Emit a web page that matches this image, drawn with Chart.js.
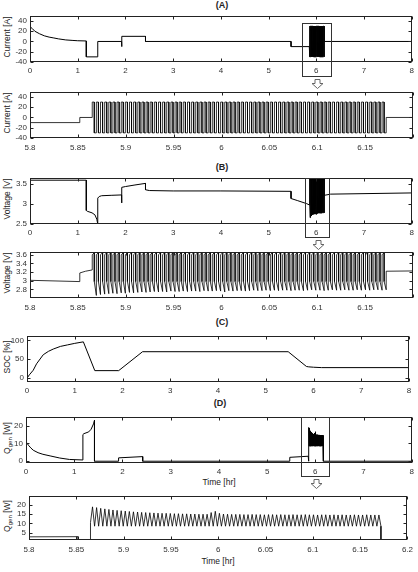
<!DOCTYPE html>
<html>
<head>
<meta charset="utf-8">
<script src="https://cdn.jsdelivr.net/npm/chart.js@4.4.0/dist/chart.umd.min.js"></script>
<style>
  body { margin: 0; background: #fff; width: 418px; height: 572px; position: relative; overflow: hidden;
         font-family: "Liberation Sans", Arial, sans-serif; color: #222; }
  canvas { position: absolute; left: 0; }
  .ttl { position: absolute; font-size: 9px; font-weight: bold; line-height: 10px; transform: translateX(-50%); }
  .ylab { position: absolute; font-size: 8.5px; line-height: 9px; white-space: nowrap; transform: translate(-50%, -50%) rotate(-90deg); }
  .ylab sub { font-size: 6px; line-height: 0; }
  .xlab { position: absolute; font-size: 8.5px; line-height: 9px; transform: translateX(-50%); }
</style>
</head>
<body>
<div class="ttl" style="left:222px;top:0px">(A)</div>
<div class="ttl" style="left:222px;top:162px">(B)</div>
<div class="ttl" style="left:222px;top:317px">(C)</div>
<div class="ttl" style="left:220px;top:398px">(D)</div>

<div class="ylab" style="left:7px;top:37px">Current [A]</div>
<div class="ylab" style="left:7px;top:113px">Current [A]</div>
<div class="ylab" style="left:7px;top:199px">Voltage [V]</div>
<div class="ylab" style="left:7px;top:273px">Voltage [V]</div>
<div class="ylab" style="left:7px;top:357px">SOC [%]</div>
<div class="ylab" style="left:7px;top:438px">Q<sub>gen</sub> [W]</div>
<div class="ylab" style="left:7px;top:516px">Q<sub>gen</sub> [W]</div>

<div class="xlab" style="left:219px;top:478px">Time [hr]</div>
<div class="xlab" style="left:218px;top:557px">Time [hr]</div>

<canvas id="chartA1" width="418" height="82" style="top:8px"></canvas>
<canvas id="chartA2" width="418" height="70" style="top:84px"></canvas>
<canvas id="chartB1" width="418" height="80" style="top:170px"></canvas>
<canvas id="chartB2" width="418" height="70" style="top:244px"></canvas>
<canvas id="chartC" width="418" height="70" style="top:328px"></canvas>
<canvas id="chartD1" width="418" height="82" style="top:409px"></canvas>
<canvas id="chartD2" width="418" height="68" style="top:488px"></canvas>

<script>
// Whole 8 hour run. The pulse block (5.865 - 6.172 hr) is spliced in from the pulse arrays below.
const curTime = [0, 0.01, 0.05, 0.1, 0.2, 0.3, 0.4, 0.5, 0.6, 0.75, 0.9, 1.0, 1.18, 1.18, 1.42, 1.42, 1.92, 1.92, 1.925, 1.925, 2.42, 2.42, 5.47, 5.47, 5.852, 5.852, 5.865, 6.172, 8];
const curVal = [37, 28, 25, 20, 15, 11, 8.5, 6.8, 5, 3, 2, 1.4, 1.0, -30, -30, 0, 0, -10, -10, 10, 10, 0, 0, -10, -10, 0, 0, 0, 0];

const voltTime = [0, 1.18, 1.18, 1.2, 1.3, 1.36, 1.4, 1.42, 1.42, 1.45, 1.5, 1.7, 1.92, 1.92, 1.925, 2.0, 2.2, 2.42, 2.42, 2.5, 3, 4, 5.47, 5.47, 5.6, 5.8, 5.852, 5.852, 5.858, 5.865, 6.172, 6.3, 8];
const voltVal = [3.6, 3.6, 2.84, 2.82, 2.78, 2.73, 2.62, 2.5, 3.15, 3.19, 3.21, 3.22, 3.23, 3.03, 3.42, 3.44, 3.48, 3.52, 3.36, 3.34, 3.33, 3.33, 3.32, 3.14, 3.09, 3.01, 2.98, 3.18, 3.22, 3.25, 3.22, 3.25, 3.28];

const socTime = [0, 0.05, 0.13, 0.2, 0.34, 0.45, 0.55, 0.7, 0.85, 1.0, 1.18, 1.42, 1.92, 2.42, 5.47, 5.852, 5.9, 6.0, 6.17, 8];
const socVal = [0, 9, 21, 38, 62, 71, 77, 84, 88, 92, 96, 20, 20, 70, 70, 31, 30, 29, 28, 28];

const qTime = [0, 0.05, 0.1, 0.15, 0.25, 0.35, 0.5, 0.7, 0.9, 1.18, 1.18, 1.2, 1.3, 1.35, 1.4, 1.42, 1.42, 1.92, 1.92, 2.42, 2.42, 5.47, 5.47, 5.852, 5.852, 5.865, 6.172, 8];
const qVal = [11, 9, 7.5, 6.2, 4.8, 3.9, 3.0, 1.8, 1.0, 0.7, 15, 15.5, 16.5, 18, 21, 23, 0, 0, 1.9, 2.6, 0, 0, 2.2, 2.8, 0, 0, 0, 0];

// pulse train: start of each charge half, +30 A then -30 A
const pulseStart = [
  5.8650, 5.8693, 5.8736, 5.8780, 5.8823, 5.8866, 5.8909, 5.8953, 5.8996, 5.9039,
  5.9082, 5.9126, 5.9169, 5.9212, 5.9255, 5.9299, 5.9342, 5.9385, 5.9428, 5.9472,
  5.9515, 5.9558, 5.9601, 5.9645, 5.9688, 5.9731, 5.9774, 5.9818, 5.9861, 5.9904,
  5.9947, 5.9991, 6.0034, 6.0077, 6.0120, 6.0164, 6.0207, 6.0250, 6.0293, 6.0337,
  6.0380, 6.0423, 6.0466, 6.0510, 6.0553, 6.0596, 6.0639, 6.0683, 6.0726, 6.0769,
  6.0812, 6.0856, 6.0899, 6.0942, 6.0985, 6.1029, 6.1072, 6.1115, 6.1158, 6.1202,
  6.1245, 6.1288, 6.1331, 6.1375, 6.1418, 6.1461, 6.1504, 6.1548, 6.1591, 6.1634,
  6.1677
];
const pulseEnd = 6.172;
const pulseHigh = 30;
const pulseLow = -30;

// voltage during pulses: charge half rises 3.6 -> 3.65, discharge half falls to vLow
const vChargeStart = 3.6;
const vChargeEnd = 3.65;
const vDischargeStart = 2.98;
const vLow = [
  2.66, 2.68, 2.69, 2.70, 2.71, 2.70, 2.72, 2.71, 2.73, 2.72,
  2.73, 2.74, 2.73, 2.74, 2.75, 2.74, 2.75, 2.74, 2.76, 2.75,
  2.75, 2.76, 2.75, 2.76, 2.76, 2.75, 2.77, 2.76, 2.76, 2.77,
  2.76, 2.74, 2.77, 2.76, 2.77, 2.77, 2.76, 2.77, 2.78, 2.77,
  2.77, 2.78, 2.77, 2.78, 2.77, 2.78, 2.78, 2.77, 2.78, 2.78,
  2.77, 2.78, 2.79, 2.78, 2.78, 2.77, 2.78, 2.79, 2.78, 2.78,
  2.79, 2.78, 2.78, 2.79, 2.78, 2.79, 2.78, 2.79, 2.79, 2.78,
  2.79
];

// heat generation during pulses
const qFirst = 10.5;
const qTrough = 8.5;
const qPeak = [
  19.0, 18.6, 18.2, 17.9, 17.6, 17.3, 17.1, 16.9, 16.7, 16.5,
  16.3, 16.2, 16.0, 15.9, 15.8, 15.7, 15.6, 15.5, 15.5, 15.4,
  15.3, 15.3, 15.2, 15.2, 15.1, 15.1, 15.0, 15.0, 15.0, 15.9,
  16.6, 15.5, 15.1, 15.0, 14.9, 14.9, 14.9, 14.8, 14.8, 14.9,
  14.8, 14.8, 14.7, 14.8, 14.8, 14.7, 14.8, 14.7, 14.7, 14.8,
  14.7, 14.7, 14.8, 14.7, 14.7, 14.6, 14.7, 14.7, 14.6, 14.7,
  14.6, 14.7, 14.6, 14.6, 14.7, 14.6, 14.6, 14.7, 14.6, 14.6,
  14.6
];

// tick labels
const fullTicks = [0, 1, 2, 3, 4, 5, 6, 7, 8];
const zoomTicks = [5.8, 5.85, 5.9, 5.95, 6, 6.05, 6.1, 6.15, 6.2];
const currentTicks = [-40, -20, 0, 20, 40];
const voltTicks = [2.5, 3, 3.5];
const voltZoomTicks = [2.8, 3, 3.2, 3.4, 3.6];
const socTicks = [0, 50, 100];
const qTicks = [0, 10, 20];
const qZoomTicks = [5, 10, 15, 20];

function edges(i) {
  const t0 = pulseStart[i];
  const t1 = i + 1 < pulseStart.length ? pulseStart[i + 1] : pulseEnd;
  return [t0, (t0 + t1) / 2, t1];
}

// base signal up to the pulse block, the block itself, then the rest
function splice(times, vals, pulsePoints) {
  const pts = [];
  times.forEach((t, k) => { if (t <= pulseStart[0]) pts.push({ x: t, y: vals[k] }); });
  pulseStart.forEach((_, i) => pulsePoints(i, edges(i)).forEach(p => pts.push(p)));
  times.forEach((t, k) => { if (t >= pulseEnd) pts.push({ x: t, y: vals[k] }); });
  return pts;
}

const currentPts = splice(curTime, curVal, (i, [t0, tm, t1]) => [
  { x: t0, y: pulseHigh }, { x: tm, y: pulseHigh }, { x: tm, y: pulseLow }, { x: t1, y: pulseLow }
]);
const voltPts = splice(voltTime, voltVal, (i, [t0, tm, t1]) => [
  { x: t0, y: vChargeStart }, { x: tm, y: vChargeEnd }, { x: tm, y: vDischargeStart }, { x: t1, y: vLow[i] }
]);
const socPts = socTime.map((t, k) => ({ x: t, y: socVal[k] }));
const qPts = splice(qTime, qVal, (i, [t0, tm, t1]) => [
  { x: t0, y: i === 0 ? qFirst : qTrough }, { x: tm, y: qPeak[i] }, { x: t1, y: qTrough }
]);

const tickFont = { family: '"Liberation Sans", Arial, sans-serif', size: 8 };

// box with inward tick marks on all four sides
const framePlugin = {
  id: 'frame',
  afterDraw(chart) {
    const { ctx, chartArea: a, scales: { x, y } } = chart;
    const L = Math.round(a.left) + 0.5, R = Math.round(a.right) - 0.5;
    const T = Math.round(a.top) + 0.5, B = Math.round(a.bottom) - 0.5;
    ctx.save();
    ctx.strokeStyle = '#222';
    ctx.lineWidth = 1;
    ctx.strokeRect(L, T, R - L, B - T);
    ctx.beginPath();
    x.ticks.forEach(t => {
      const px = Math.round(x.getPixelForValue(t.value)) + 0.5;
      ctx.moveTo(px, B); ctx.lineTo(px, B - 3);
      ctx.moveTo(px, T); ctx.lineTo(px, T + 3);
    });
    y.ticks.forEach(t => {
      const py = Math.round(y.getPixelForValue(t.value)) + 0.5;
      ctx.moveTo(L, py); ctx.lineTo(L + 3, py);
      ctx.moveTo(R, py); ctx.lineTo(R - 3, py);
    });
    ctx.stroke();
    ctx.restore();
  }
};

// rectangle marking the zoomed span, plus the hollow arrow under it
const zoomBoxPlugin = {
  id: 'zoomBox',
  afterDraw(chart, args, opts) {
    if (!opts || opts.from === undefined) return;
    const { ctx, chartArea: a, scales: { x, y } } = chart;
    const l = Math.round(x.getPixelForValue(opts.from)) + 0.5;
    const r = Math.round(x.getPixelForValue(opts.to)) + 0.5;
    const t = (opts.top === undefined ? Math.round(a.top) : Math.round(y.getPixelForValue(opts.top))) + 0.5;
    const b = Math.round(a.bottom) + opts.below + 0.5;
    ctx.save();
    ctx.strokeStyle = '#333';
    ctx.lineWidth = 1;
    ctx.strokeRect(l, t, r - l, b - t);
    const cx = Math.round((l + r) / 2) + 0.5, top = b + 3;
    ctx.beginPath();
    ctx.moveTo(cx - 2.5, top); ctx.lineTo(cx + 2.5, top); ctx.lineTo(cx + 2.5, top + 4);
    ctx.lineTo(cx + 5.5, top + 4); ctx.lineTo(cx, top + 9); ctx.lineTo(cx - 5.5, top + 4);
    ctx.lineTo(cx - 2.5, top + 4); ctx.closePath();
    ctx.fillStyle = '#fff';
    ctx.fill();
    ctx.strokeStyle = '#666';
    ctx.stroke();
    ctx.restore();
  }
};

function fmt(v) { return String(+Number(v).toFixed(2)); }

function panel(id, cfg) {
  return new Chart(document.getElementById(id), {
    type: 'line',
    data: {
      datasets: [{
        data: cfg.points,
        borderColor: '#000',
        borderWidth: cfg.lw || 1,
        pointRadius: 0,
        tension: 0,
        fill: false
      }]
    },
    options: {
      responsive: false,
      animation: false,
      events: [],
      layout: { padding: { top: cfg.padTop, right: 418 - cfg.right, left: 0, bottom: cfg.padBottom } },
      plugins: {
        legend: { display: false },
        tooltip: { enabled: false },
        zoomBox: cfg.box || {}
      },
      scales: {
        x: {
          type: 'linear',
          min: cfg.xMin,
          max: cfg.xMax,
          afterBuildTicks: s => { s.ticks = cfg.xTicks.map(v => ({ value: v })); },
          afterFit: s => { s.height = cfg.xH; },
          ticks: {
            font: tickFont, color: '#333', padding: cfg.xPad || 4, maxRotation: 0, autoSkip: false,
            callback: v => (cfg.xLabelMax !== undefined && v > cfg.xLabelMax) ? '' : fmt(v)
          },
          grid: { display: false, drawTicks: false },
          border: { display: false }
        },
        y: {
          type: 'linear',
          min: cfg.yMin,
          max: cfg.yMax,
          afterBuildTicks: s => { s.ticks = cfg.yTicks.map(v => ({ value: v })); },
          afterFit: s => { s.width = cfg.left; },
          ticks: { font: tickFont, color: '#333', padding: 3, autoSkip: false, callback: v => fmt(v) },
          grid: { display: false, drawTicks: false },
          border: { display: false }
        }
      }
    },
    plugins: [framePlugin, zoomBoxPlugin]
  });
}

panel('chartA1', {
  points: currentPts, xMin: 0, xMax: 8, xTicks: fullTicks, yMin: -40, yMax: 50, yTicks: currentTicks,
  left: 30, right: 413, padTop: 4, padBottom: 16, xH: 12,
  box: { from: 5.7, to: 6.3, top: 36, below: 14 }
});
panel('chartA2', {
  points: currentPts, xMin: 5.8, xMax: 6.2, xTicks: zoomTicks, xLabelMax: 6.17, yMin: -40, yMax: 50, yTicks: currentTicks,
  left: 30, right: 413, padTop: 4, padBottom: 2, xH: 14, xPad: 5, lw: 0.8
});
panel('chartB1', {
  points: voltPts, xMin: 0, xMax: 8, xTicks: fullTicks, yMin: 2.5, yMax: 3.66, yTicks: voltTicks,
  left: 30, right: 413, padTop: 4, padBottom: 14, xH: 12,
  box: { from: 5.77, to: 6.27, below: 13 }
});
panel('chartB2', {
  points: voltPts, xMin: 5.8, xMax: 6.2, xTicks: zoomTicks, xLabelMax: 6.17, yMin: 2.6, yMax: 3.67, yTicks: voltZoomTicks,
  left: 30, right: 413, padTop: 4, padBottom: 2, xH: 14, xPad: 5, lw: 0.8
});
panel('chartC', {
  points: socPts, xMin: 0, xMax: 8, xTicks: fullTicks, yMin: -10, yMax: 112, yTicks: socTicks,
  left: 27, right: 409, padTop: 4, padBottom: 2, xH: 14
});
panel('chartD1', {
  points: qPts, xMin: 0, xMax: 8, xTicks: fullTicks, yMin: -1, yMax: 25, yTicks: qTicks,
  left: 26, right: 412, padTop: 4, padBottom: 16, xH: 12,
  box: { from: 5.7, to: 6.28, below: 13 }
});
panel('chartD2', {
  points: qPts, xMin: 5.8, xMax: 6.2, xTicks: zoomTicks, yMin: 1, yMax: 25, yTicks: qZoomTicks,
  left: 29, right: 408, padTop: 4, padBottom: 2, xH: 14, xPad: 5, lw: 0.8
});
</script>
</body>
</html>
